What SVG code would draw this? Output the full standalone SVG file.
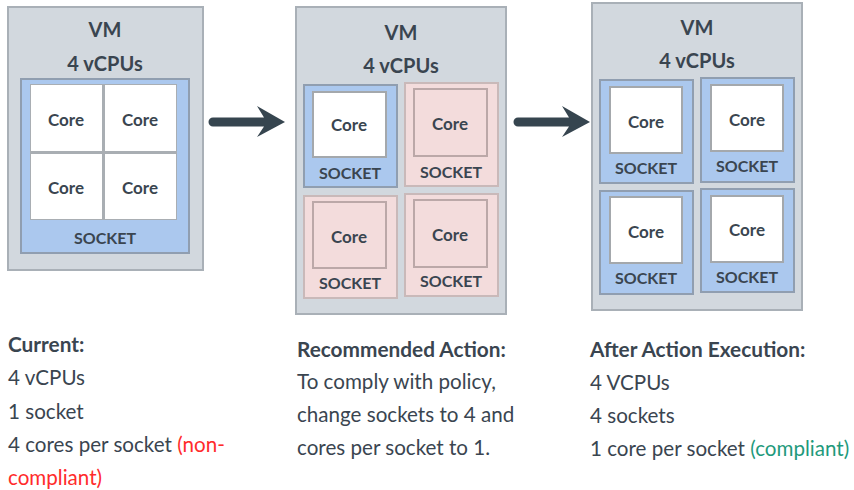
<svg xmlns="http://www.w3.org/2000/svg" width="854" height="490" viewBox="0 0 854 490">
<style>
text{font-family:Lato,"Open Sans","Liberation Sans",sans-serif;fill:#3a4550}
.vm{fill:#d2d8de;stroke:#a9b0b7;stroke-width:2}
.sb{fill:#abc8ee;stroke:#909eb0;stroke-width:2}
.sp{fill:#f3dcdc;stroke:#c9b9b9;stroke-width:2}
.cw{fill:#ffffff;stroke:#a4a8ac;stroke-width:2}
.cp{fill:#f3dcdc;stroke:#bba8a8;stroke-width:2}
.h{font-weight:bold;font-size:20px;text-anchor:middle}
.c{font-weight:bold;font-size:17px;text-anchor:middle}
.s{font-weight:bold;font-size:16px;text-anchor:middle}
.t{font-size:20.6px}
.tb{font-size:20.8px;font-weight:bold}
.red{fill:#ff2b2b}
.grn{fill:#1f9a7c}
.arr{fill:#36454f}
</style>
<g id="vm-current">
<rect class="vm" x="8" y="7" width="195" height="263"/>
<text class="h" x="105" y="37">VM</text>
<text class="h" x="105" y="71">4 vCPUs</text>
<rect class="sb" x="21" y="79" width="168" height="174"/>
<rect x="30" y="84" width="147" height="136" fill="#a9aeb3"/>
<rect x="31" y="85" width="71" height="66" fill="#fff"/>
<rect x="105" y="85" width="71" height="66" fill="#fff"/>
<rect x="31" y="154" width="71" height="65" fill="#fff"/>
<rect x="105" y="154" width="71" height="65" fill="#fff"/>
<text class="c" x="66" y="126">Core</text>
<text class="c" x="140" y="126">Core</text>
<text class="c" x="66" y="194">Core</text>
<text class="c" x="140" y="194">Core</text>
<text class="s" x="105" y="244">SOCKET</text>
</g>
<g id="vm-recommended">
<rect class="vm" x="296" y="7" width="210" height="307"/>
<text class="h" x="401" y="40">VM</text>
<text class="h" x="401" y="73">4 vCPUs</text>
<rect class="sb" x="304" y="85" width="93" height="102"/>
<rect class="cw" x="313" y="92" width="73" height="65"/>
<text class="c" x="349" y="131">Core</text>
<text class="s" x="350" y="179">SOCKET</text>
<rect class="sp" x="405" y="83" width="93" height="103"/>
<rect class="cp" x="414" y="89" width="73" height="67"/>
<text class="c" x="450" y="130">Core</text>
<text class="s" x="451" y="178">SOCKET</text>
<rect class="sp" x="304" y="196" width="93" height="102"/>
<rect class="cp" x="313" y="202" width="73" height="66"/>
<text class="c" x="349" y="243">Core</text>
<text class="s" x="350" y="289">SOCKET</text>
<rect class="sp" x="405" y="194" width="93" height="102"/>
<rect class="cp" x="414" y="200" width="73" height="67"/>
<text class="c" x="450" y="241">Core</text>
<text class="s" x="451" y="287">SOCKET</text>
</g>
<g id="vm-after">
<rect class="vm" x="592" y="3" width="210" height="307"/>
<text class="h" x="697" y="35">VM</text>
<text class="h" x="697" y="68">4 vCPUs</text>
<rect class="sb" x="600" y="80" width="93" height="103"/>
<rect class="cw" x="610" y="87" width="72" height="66"/>
<text class="c" x="646" y="128">Core</text>
<text class="s" x="646" y="174">SOCKET</text>
<rect class="sb" x="701" y="78" width="93" height="104"/>
<rect class="cw" x="711" y="85" width="72" height="66"/>
<text class="c" x="747" y="126">Core</text>
<text class="s" x="747" y="172">SOCKET</text>
<rect class="sb" x="600" y="191" width="93" height="103"/>
<rect class="cw" x="610" y="197" width="72" height="66"/>
<text class="c" x="646" y="238">Core</text>
<text class="s" x="646" y="284">SOCKET</text>
<rect class="sb" x="701" y="189" width="93" height="103"/>
<rect class="cw" x="711" y="196" width="72" height="66"/>
<text class="c" x="747" y="236">Core</text>
<text class="s" x="747" y="283">SOCKET</text>
</g>
<g id="connectors">
<path class="arr" d="M213 117.5 H264 L257 106 L285 122 L257 137 L264 126.5 H213 A4.5 4.5 0 0 1 213 117.5 Z"/>
<path class="arr" d="M518 117.5 H569 L562 106 L590 122 L562 137 L569 126.5 H518 A4.5 4.5 0 0 1 518 117.5 Z"/>
</g>
<g id="text-current">
<text class="tb" x="8" y="352">Current:</text>
<text class="t" x="8" y="385">4 vCPUs</text>
<text class="t" x="8" y="419">1 socket</text>
<text class="t" x="8" y="452">4 cores per socket <tspan class="red">(non-</tspan></text>
<text class="t red" x="8" y="485">compliant)</text>
</g>
<g id="text-recommended">
<text class="tb" x="297" y="357">Recommended Action:</text>
<text class="t" x="297" y="389">To comply with policy,</text>
<text class="t" x="297" y="422">change sockets to 4 and</text>
<text class="t" x="297" y="455">cores per socket to 1.</text>
</g>
<g id="text-after">
<text class="tb" x="590" y="357">After Action Execution:</text>
<text class="t" x="590" y="390">4 VCPUs</text>
<text class="t" x="590" y="423">4 sockets</text>
<text class="t" x="590" y="456">1 core per socket <tspan class="grn">(compliant)</tspan></text>
</g>
</svg>
